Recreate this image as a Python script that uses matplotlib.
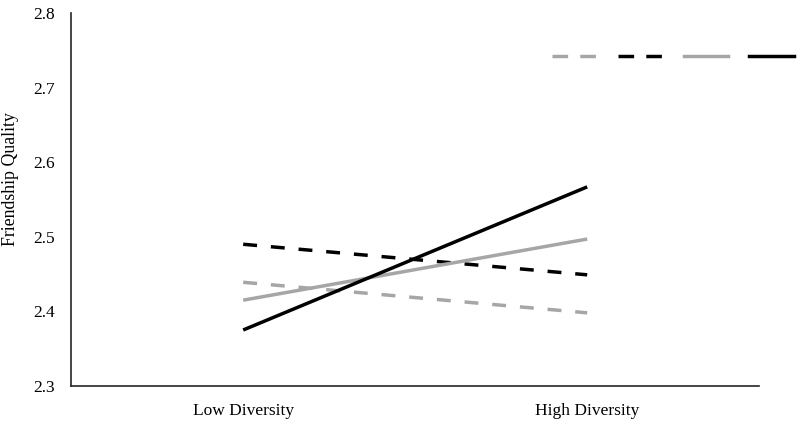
import matplotlib
matplotlib.use("Agg")
import matplotlib.pyplot as plt
from matplotlib.lines import Line2D

plt.rcParams['font.family'] = ['Liberation Serif', 'DejaVu Serif']

categories = ["Low Diversity", "High Diversity"]
gray_dashed = [2.439, 2.398]
black_dashed = [2.490, 2.449]
gray_solid = [2.415, 2.497]
black_solid = [2.375, 2.567]

gray = "#A6A6A6"
lw = 2.5

fig = plt.figure(figsize=(8, 4.25), dpi=100)
ax = fig.add_axes([0.089, 0.092, 0.86, 0.877])

x = list(range(len(categories)))
ax.plot(x, gray_dashed, color=gray, lw=lw, dashes=(4, 4))
ax.plot(x, black_dashed, color="black", lw=lw, dashes=(4, 4))
ax.plot(x, gray_solid, color=gray, lw=lw, solid_capstyle="butt")
ax.plot(x, black_solid, color="black", lw=lw, solid_capstyle="butt")

ax.set_xlim(-0.5, 1.5)
ax.set_ylim(2.3, 2.8)
ax.set_xticks(x)
ax.set_xticklabels(categories)
ax.set_yticks([2.3, 2.4, 2.5, 2.6, 2.7, 2.8])
ax.set_yticklabels(["2.3", "2.4", "2.5", "2.6", "2.7", "2.8"])
ax.tick_params(axis="both", length=0, labelsize=12.5)
ax.tick_params(axis="y", pad=12)
ax.tick_params(axis="x", pad=12)
ax.set_ylabel("Friendship Quality", fontsize=12.8)
ax.yaxis.set_label_coords(-0.076, 0.555)

for s in ["top", "right"]:
    ax.spines[s].set_visible(False)
for s in ["left", "bottom"]:
    ax.spines[s].set_color("#262626")
    ax.spines[s].set_linewidth(1.2)

handles = [
    Line2D([], [], color=gray, lw=lw, dashes=(4.5, 3.5)),
    Line2D([], [], color="black", lw=lw, dashes=(4.5, 3.5)),
    Line2D([], [], color=gray, lw=lw),
    Line2D([], [], color="black", lw=lw),
]
ax.legend(handles, ["", "", "", ""], ncol=4, loc="center right",
          bbox_to_anchor=(1.05, 0.882), frameon=False, fontsize=11,
          handlelength=2.9, handletextpad=0, columnspacing=1.4,
          borderpad=0, borderaxespad=0)

fig.savefig("out.png", dpi=100)
